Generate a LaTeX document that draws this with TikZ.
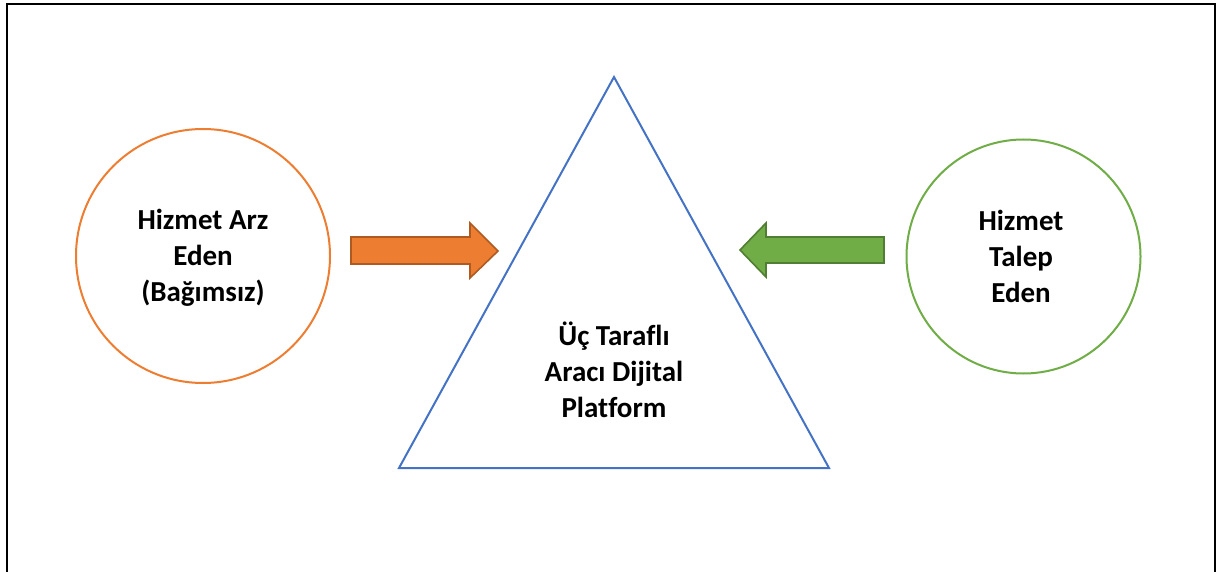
\documentclass[tikz,border=0pt]{standalone}
\usepackage{fontspec}
\setmainfont{Carlito}[Ligatures=NoCommon]
\definecolor{orfill}{HTML}{ED7D31}
\definecolor{ordraw}{HTML}{AE5A21}
\definecolor{grfill}{HTML}{70AD47}
\definecolor{grdraw}{HTML}{507E32}
\definecolor{bluel}{HTML}{4472C4}
\tikzset{
  lbl/.style={align=center, font=\fontsize{29}{36}\selectfont\bfseries, inner sep=0pt},
  ring/.style={circle, line width=2pt, inner sep=0pt},
  blockarrow/.style={line width=1.6pt, line join=miter},
}
\begin{document}
\begin{tikzpicture}[x=1pt,y=-1pt]
\useasboundingbox (0,0) rectangle (1216,572);
\fill[white] (0,0) rectangle (1216,572);
% frame
\draw[line width=2.2pt] (7,572) -- (7,4) -- (1215,4) -- (1215,572);
% circles
\node[ring, draw=orfill, minimum size=254pt] (supply) at (203,256) {};
\node[ring, draw=grfill, minimum size=234pt] (demand) at (1023.5,256.5) {};
\node[lbl] (supplytxt) at (203,258) {Hizmet Arz\\Eden\\(Bağımsız)};
\node[lbl] (demandtxt) at (1021,256) {Hizmet\\Talep\\Eden};
% triangle
\coordinate (apex) at (614,77);
\coordinate (bl) at (399,468);
\coordinate (br) at (829,468);
\draw[bluel, line width=2pt, line join=miter] (apex) -- (bl) -- (br) -- cycle;
\node[lbl] (platform) at (614,370) {Üç Taraflı\\Aracı Dijital\\Platform};
% arrows
\draw[blockarrow, draw=ordraw, fill=orfill]
  (351,237) -- (470,237) -- (470,223) -- (498,251) -- (470,278) -- (470,264) -- (351,264) -- cycle;
\draw[blockarrow, draw=grdraw, fill=grfill]
  (884,237) -- (766,237) -- (766,223) -- (740,250) -- (766,277) -- (766,263) -- (884,263) -- cycle;
\end{tikzpicture}
\end{document}
